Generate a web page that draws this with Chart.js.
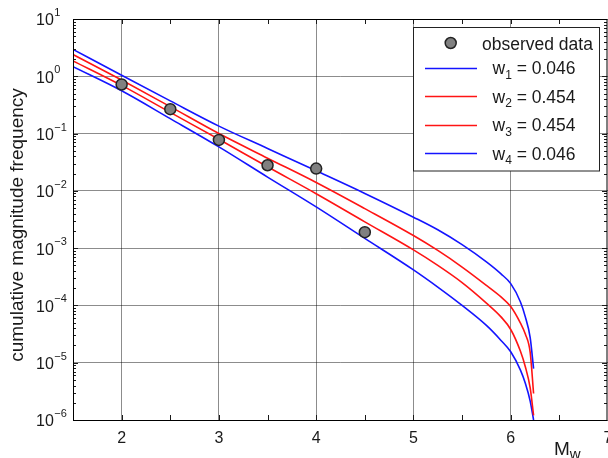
<!DOCTYPE html>
<html>
<head>
<meta charset="utf-8">
<script src="https://cdn.jsdelivr.net/npm/chart.js@4/dist/chart.umd.min.js"></script>
<style>
  html, body { margin: 0; padding: 0; background: #fff; overflow: hidden; }
  #wrap { width: 608px; height: 458px; position: relative; }
  #c { display: block; }
</style>
</head>
<body>
<div id="wrap"><canvas id="c"></canvas></div>
<script>
const M_GRID = [1.5, 2, 2.5, 3, 3.5, 4, 4.5, 5, 5.25, 5.5, 5.75, 5.9, 6.0, 6.1, 6.15, 6.2, 6.235];
// branch curves (cumulative frequency)
const W1 = [2.95, 1.04, 0.372, 0.135, 0.0550, 0.0224, 0.00902, 0.00347, 0.00209, 0.00115, 5.75e-4, 3.55e-4, 2.40e-4, 1.15e-4, 6.31e-5, 2.75e-5, 7.9e-6];
const W2 = [2.40, 0.859, 0.295, 0.100, 0.0372, 0.0140, 0.00490, 0.00166, 9.12e-4, 4.68e-4, 2.24e-4, 1.41e-4, 9.55e-5, 4.90e-5, 3.16e-5, 1.51e-5, 2.9e-6];
const W3 = [1.86, 0.693, 0.234, 0.0794, 0.0263, 0.00891, 0.00288, 9.33e-4, 5.01e-4, 2.51e-4, 1.10e-4, 6.31e-5, 3.80e-5, 1.58e-5, 8.51e-6, 3.63e-6, 1.2e-6];
const W4 = [1.47, 0.558, 0.182, 0.0586, 0.0174, 0.00525, 0.00148, 4.17e-4, 2.09e-4, 1.0e-4, 4.47e-5, 2.45e-5, 1.55e-5, 7.41e-6, 4.37e-6, 2.14e-6, 1.0e-6];
const WEIGHTS = ['0.046', '0.454', '0.454', '0.046'];

// observed data
const OBS_M = [2, 2.5, 3, 3.5, 4, 4.5];
const OBS_N = [0.72, 0.267, 0.0776, 0.028, 0.0245, 0.0019];

// axes
const X_TICKS = [2, 3, 4, 5, 6, 7];
const X_MINOR = [1.5, 2.5, 3.5, 4.5, 5.5, 6.5];
const Y_EXP = [-6, -5, -4, -3, -2, -1, 0, 1];

const BLUE = 'rgb(20,20,255)';
const RED = 'rgb(255,20,20)';
const INK = '#1a1a1a';
const FONT = '"Liberation Sans", Arial, sans-serif';

const pts = (xs, ys) => xs.map((x, i) => ({x: x, y: ys[i]}));

function lineSet(label, vals, color){
  return {
    type: 'line', label: label, data: pts(M_GRID, vals),
    borderColor: color, borderWidth: 1.6, pointRadius: 0,
    cubicInterpolationMode: 'monotone', fill: false
  };
}

// extra drawing: tick labels with superscripts, titles, minor ticks, frame, legend
const decor = {
  id: 'decor',
  afterDraw(chart){
    const ctx = chart.ctx;
    const xs = chart.scales.x, ys = chart.scales.y;
    const a = chart.chartArea;
    ctx.save();

    // minor ticks (inward)
    ctx.strokeStyle = INK;
    ctx.lineWidth = 1;
    ctx.beginPath();
    X_MINOR.concat(X_TICKS).forEach(v => {
      const px = Math.round(xs.getPixelForValue(v)) + 0.5;
      ctx.moveTo(px, a.bottom); ctx.lineTo(px, a.bottom - 5);
      ctx.moveTo(px, a.top); ctx.lineTo(px, a.top + 5);
    });
    for(let e = -6; e < 1; e++){
      for(let k = 1; k <= 9; k++){
        const py = Math.round(ys.getPixelForValue(k * Math.pow(10, e))) + 0.5;
        const len = k === 1 ? 5 : 3;
        ctx.moveTo(a.left, py); ctx.lineTo(a.left + len, py);
        ctx.moveTo(a.right - 1, py); ctx.lineTo(a.right - 1 - len, py);
      }
    }
    ctx.stroke();

    // frame
    ctx.strokeStyle = '#000';
    ctx.strokeRect(a.left + 0.5, a.top + 0.5, a.right - a.left - 1.5, a.bottom - a.top);

    // x tick labels
    ctx.fillStyle = INK;
    ctx.font = '16px ' + FONT;
    ctx.textAlign = 'center';
    ctx.textBaseline = 'alphabetic';
    X_TICKS.forEach(v => ctx.fillText(String(v), xs.getPixelForValue(v), 442.5));

    // y tick labels 10^e
    ctx.textAlign = 'left';
    ctx.textBaseline = 'middle';
    Y_EXP.forEach(e => {
      const py = ys.getPixelForValue(Math.pow(10, e));
      ctx.font = '16px ' + FONT;
      ctx.fillText('10', 36, py + 2);
      const w = ctx.measureText('10').width;
      ctx.font = '11px ' + FONT;
      ctx.fillText(e < 0 ? '\u2212' + (-e) : String(e), 36 + w + 0.5, py - 6);
    });

    // y title
    ctx.save();
    ctx.translate(23, 225);
    ctx.rotate(-Math.PI / 2);
    ctx.textAlign = 'center';
    ctx.textBaseline = 'alphabetic';
    ctx.font = '19px ' + FONT;
    ctx.fillText('cumulative magnitude frequency', 0, 0);
    ctx.restore();

    // x title M_w
    ctx.textAlign = 'left';
    ctx.textBaseline = 'alphabetic';
    ctx.font = '19px ' + FONT;
    ctx.fillText('M', 554, 455);
    const mw = ctx.measureText('M').width;
    ctx.font = '15px ' + FONT;
    ctx.fillText('w', 554 + mw, 459);

    // legend
    const bx = 413.5, by = 27.5, bw = 186, bh = 143.5;
    ctx.fillStyle = '#fff';
    ctx.fillRect(bx, by, bw, bh);
    ctx.strokeStyle = '#222';
    ctx.lineWidth = 1;
    ctx.strokeRect(bx, by, bw, bh);

    ctx.beginPath();
    ctx.arc(450.7, 43, 5.5, 0, Math.PI * 2);
    ctx.fillStyle = '#808080';
    ctx.fill();
    ctx.lineWidth = 1.5;
    ctx.strokeStyle = '#222';
    ctx.stroke();

    ctx.fillStyle = INK;
    ctx.font = '17.5px ' + FONT;
    ctx.fillText('observed data', 482, 49.5);

    const colors = [BLUE, RED, RED, BLUE];
    WEIGHTS.forEach((wt, i) => {
      const base = 74 + i * 28.5;
      const ly = Math.round(base - 6.5) + 0.5;
      ctx.strokeStyle = colors[i];
      ctx.lineWidth = 1.6;
      ctx.beginPath();
      ctx.moveTo(425, ly); ctx.lineTo(477, ly);
      ctx.stroke();
      ctx.fillStyle = INK;
      ctx.font = '17.5px ' + FONT;
      ctx.fillText('w', 492.5, base);
      let x = 492.5 + ctx.measureText('w').width;
      ctx.font = '12px ' + FONT;
      ctx.fillText(String(i + 1), x, base + 4.5);
      x += ctx.measureText(String(i + 1)).width;
      ctx.font = '17.5px ' + FONT;
      ctx.fillText(' = ' + wt, x, base);
    });

    ctx.restore();
  }
};

new Chart(document.getElementById('c'), {
  data: {
    datasets: [
      {
        type: 'scatter', label: 'observed data', data: pts(OBS_M, OBS_N),
        pointRadius: 5.5, pointHoverRadius: 5.5, pointBackgroundColor: '#808080',
        pointBorderColor: '#222', pointBorderWidth: 1.5, showLine: false
      },
      lineSet('w1 = 0.046', W1, BLUE),
      lineSet('w2 = 0.454', W2, RED),
      lineSet('w3 = 0.454', W3, RED),
      lineSet('w4 = 0.046', W4, BLUE)
    ]
  },
  options: {
    responsive: true,
    maintainAspectRatio: false,
    animation: false,
    layout: { autoPadding: false, padding: { top: 19, right: 0, left: 0, bottom: 0 } },
    plugins: { legend: { display: false }, tooltip: { enabled: false } },
    scales: {
      x: {
        type: 'linear', min: 1.5, max: 7,
        afterBuildTicks: s => { s.ticks = X_TICKS.map(v => ({value: v})); },
        afterFit: s => { s.height = 38; s.paddingLeft = 0; s.paddingRight = 0; },
        grid: { color: 'rgba(0,0,0,0.45)', lineWidth: 1, drawTicks: false },
        border: { display: false },
        ticks: { display: false }
      },
      y: {
        type: 'logarithmic', min: 1e-6, max: 10,
        afterBuildTicks: s => { s.ticks = Y_EXP.map(e => ({value: Math.pow(10, e)})); },
        afterFit: s => { s.width = 73; },
        grid: { color: 'rgba(0,0,0,0.45)', lineWidth: 1, drawTicks: false },
        border: { display: false },
        ticks: { display: false }
      }
    }
  },
  plugins: [decor]
});
</script>
</body>
</html>
